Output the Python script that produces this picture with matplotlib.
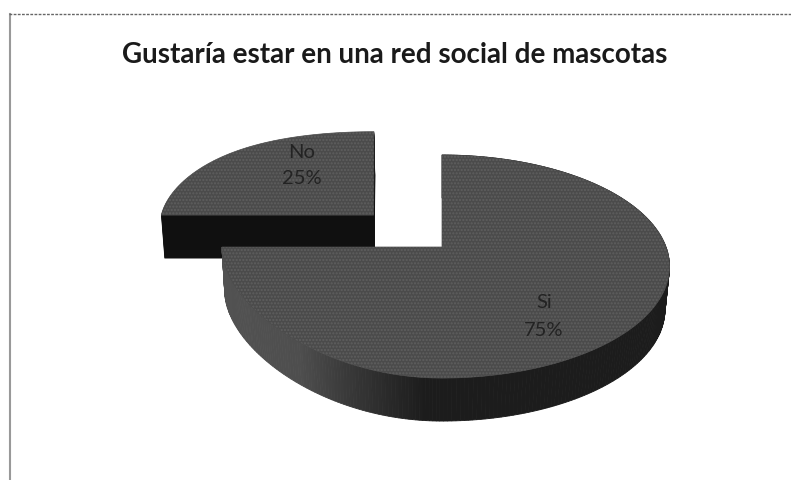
import numpy as np
import matplotlib
matplotlib.use("Agg")
import matplotlib.pyplot as plt
from matplotlib.patches import Polygon

title = "Gustaría estar en una red social de mascotas"
labels = ["No", "Si"]
values = [25, 75]
explode = [0.44, 0]

# pixel numbers of the fake 3d view
CX, CY = 442, 247
RX_RIGHT, RX_LEFT = 224, 220
A, C = -64.9, 0.175
DEPTH = 43

# grey of the big slice's wall, it fades into the top face on the left
wall_x = [222, 300, 345, 425, 670]
wall_grey = [82, 78, 58, 28, 28]
TOP = "#4b4b4b"


def project(x, y):
    # unit circle of the pie -> pixels, with some perspective
    w = C * y + 1
    right = RX_RIGHT * x / w
    left = RX_LEFT * x * (1 - 0.05 * x**2 * np.clip(y, 0, None))
    return CX + np.where(x > 0, right, left), (A * y + CY) / w


def lower(pts, d):
    # lower rim is a bit narrower than the top face
    low = pts + [0, d]
    shrink = np.where(low[:, 0] > CX, 0.02, 0.012) * d / DEPTH
    low[:, 0] = CX + (low[:, 0] - CX) * (1 - shrink)
    return low


fig = plt.figure(figsize=(7.91, 4.8), dpi=100)
ax = fig.add_axes([0, 0, 1, 1])
wedges, _ = ax.pie(values, explode=explode, startangle=90, radius=1)

shapes = []
for w in wedges:
    t = np.radians(np.linspace(w.theta1, w.theta2, 300))
    xs = np.r_[w.center[0], w.center[0] + w.r * np.cos(t)]
    ys = np.r_[w.center[1], w.center[1] + w.r * np.sin(t)]
    px, py = project(xs, ys)
    shapes.append(np.column_stack([px, py]))
    w.remove()

# small slice, flat dark wall
no_pts, si_pts = shapes
for d in range(DEPTH, 0, -1):
    ax.add_patch(Polygon(lower(no_pts, d), closed=True, fc="#101010", ec="#101010", lw=0.5))
ax.add_patch(Polygon(no_pts, closed=True, fc=TOP, ec=TOP, lw=0.5))
ax.add_patch(Polygon(no_pts, closed=True, fc="none", ec="#5f5f5f", lw=0, hatch="....."))

# big slice, wall made of thin strips along the arc
arc = si_pts[1:]
low = lower(arc, DEPTH)
for i in range(len(arc) - 1):
    grey = np.interp(arc[i:i + 2, 0].mean(), wall_x, wall_grey) / 255
    quad = [arc[i], arc[i + 1], low[i + 1], low[i]]
    ax.add_patch(Polygon(quad, closed=True, fc=(grey, grey, grey), ec=(grey, grey, grey), lw=0.6))
ax.add_patch(Polygon(si_pts, closed=True, fc=TOP, ec=TOP, lw=0.5))
ax.add_patch(Polygon(si_pts, closed=True, fc="none", ec="#5f5f5f", lw=0, hatch="....."))

# data labels
label_pos = [(302, 152, 178), (544, 303, 330)]
total = sum(values)
for name, val, (x, y1, y2) in zip(labels, values, label_pos):
    ax.text(x, y1, name, ha="center", va="center", fontsize=14.5, family="Lato", color="#232323")
    ax.text(x, y2, f"{val / total:.0%}", ha="center", va="center", fontsize=14.5, family="Lato", color="#232323")

ax.text(395, 55, title, ha="center", va="center", fontsize=20, fontweight="bold", family="Lato", color="#1a1a1a")

# chart border, only left and top came out on the scan
ax.plot([9.5, 9.5], [480, 14], color="#999999", lw=1.5)
ax.plot([9, 791], [14, 14], color="#666666", lw=1, ls=(0, (2, 1)))

ax.set_xlim(0, 791)
ax.set_ylim(480, 0)
ax.set_aspect("auto")
ax.axis("off")

fig.savefig("out.png", dpi=100)
